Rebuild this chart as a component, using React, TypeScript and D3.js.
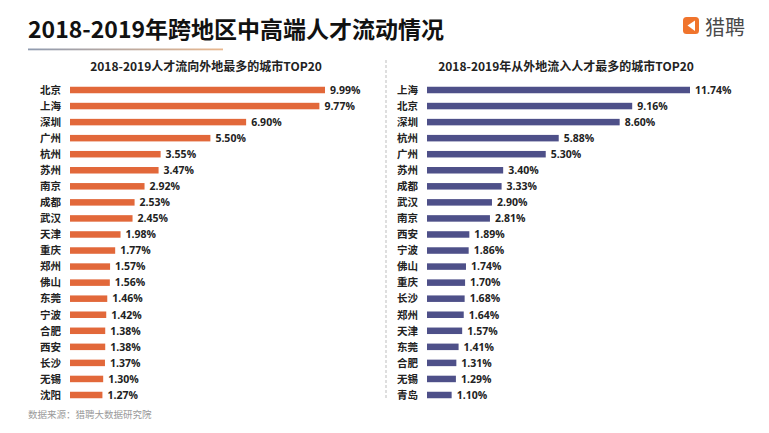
import * as d3 from "d3";
import React from "react";

const outCities = ["北京", "上海", "深圳", "广州", "杭州", "苏州", "南京", "成都", "武汉", "天津", "重庆", "郑州", "佛山", "东莞", "宁波", "合肥", "西安", "长沙", "无锡", "沈阳"];
const outValues = [9.99, 9.77, 6.9, 5.5, 3.55, 3.47, 2.92, 2.53, 2.45, 1.98, 1.77, 1.57, 1.56, 1.46, 1.42, 1.38, 1.38, 1.37, 1.3, 1.27];

const inCities = ["上海", "北京", "深圳", "杭州", "广州", "苏州", "成都", "武汉", "南京", "西安", "宁波", "佛山", "重庆", "长沙", "郑州", "天津", "东莞", "合肥", "无锡", "青岛"];
const inValues = [11.74, 9.16, 8.6, 5.88, 5.3, 3.4, 3.33, 2.9, 2.81, 1.89, 1.86, 1.74, 1.7, 1.68, 1.64, 1.57, 1.41, 1.31, 1.29, 1.1];

const W = 769;
const H = 433;
const CJK = '"Noto Sans CJK SC", "Noto Sans", sans-serif';
const NUM = '"Open Sans", "Noto Sans CJK SC", sans-serif';

interface PanelProps {
  title: string;
  titleX: number;
  cities: string[];
  values: number[];
  x0: number;
  x1: number;
  color: string;
}

const Panel = ({ title, titleX, cities, values, x0, x1, color }: PanelProps) => {
  const x = d3.scaleLinear().domain([0, d3.max(values) ?? 0]).range([x0, x1]);
  const y = d3.scalePoint<string>().domain(cities.map((_, i) => String(i))).range([90, 395]);
  const barH = 6.5;
  return (
    <g>
      <text x={titleX} y={71} textAnchor="middle" fontFamily={CJK} fontWeight="bold" fontSize={12} fill="#222">
        {title}
      </text>
      {cities.map((c, i) => {
        const cy = y(String(i))!;
        return (
          <g key={c}>
            <text x={x0 - 9} y={cy + 3.8} textAnchor="end" fontFamily={CJK} fontWeight="bold" fontSize={10.5} fill="#222">
              {c}
            </text>
            <rect x={x(0)} y={cy - barH / 2} width={x(values[i]) - x(0)} height={barH} fill={color} />
            <text x={x(values[i]) + 5} y={cy + 3.8} fontFamily={NUM} fontWeight="bold" fontSize={10.5} fill="#222">
              {values[i].toFixed(2)}%
            </text>
          </g>
        );
      })}
    </g>
  );
};

export default function App() {
  return (
    <svg width={W} height={H} style={{ display: "block", position: "absolute", left: 0, top: 0, background: "#fff" }}>
      <defs>
        <linearGradient id="ul" x1="0" x2="1" y1="0" y2="0">
          <stop offset="0" stopColor="#8f9bb0" />
          <stop offset="1" stopColor="#e9b88f" />
        </linearGradient>
      </defs>
      <rect width={W} height={H} fill="#fff" />
      <text x={28} y={38} fontFamily={CJK} fontWeight="bold" fontSize={23} fill="#111">
        2018-2019年跨地区中高端人才流动情况
      </text>
      <rect x={28} y={48.5} width={195} height={1.8} fill="url(#ul)" />

      {/* logo */}
      <rect x={683} y={17} width={16} height={17} rx={3.5} fill="#f0742c" />
      <path d="M695 20.5 L687.5 25.5 L695 31 Z" fill="#fff" />
      <text x={705} y={35} fontFamily={CJK} fontSize={20} fill="#4a4a4a">
        猎聘
      </text>

      <line x1={386} x2={386} y1={60} y2={400} stroke="#bdbdbd" strokeWidth={1} strokeDasharray="3,2" />

      <Panel
        title="2018-2019人才流向外地最多的城市TOP20"
        titleX={206}
        cities={outCities}
        values={outValues}
        x0={70}
        x1={325}
        color="#e2683a"
      />
      <Panel
        title="2018-2019年从外地流入人才最多的城市TOP20"
        titleX={566}
        cities={inCities}
        values={inValues}
        x0={427}
        x1={690}
        color="#4e5089"
      />

      <text x={28} y={418} fontFamily={CJK} fontSize={9.5} fill="#9a9a9a">
        数据来源：猎聘大数据研究院
      </text>
    </svg>
  );
}
